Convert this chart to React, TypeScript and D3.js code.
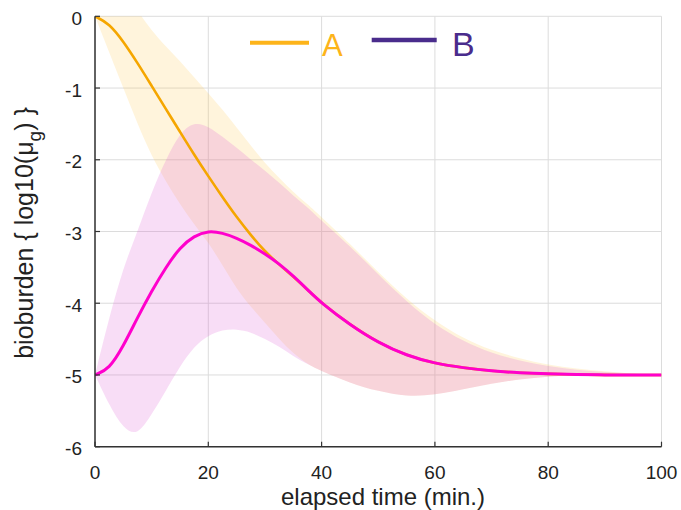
import React from "react";
import * as d3 from "d3";

const time = [0, 2.5, 5, 7.5, 10, 12.5, 15, 17.5, 20, 22.5, 25, 27.5, 30, 32.5, 35, 37.5, 40, 45, 50, 55, 60, 65, 70, 75, 80, 85, 90, 95, 100];

const meanA = [0, -0.1, -0.35, -0.65, -0.97, -1.29, -1.61, -1.93, -2.23, -2.52, -2.8, -3.05, -3.28, -3.46, -3.63, -3.81, -4.0, -4.3, -4.55, -4.73, -4.84, -4.9, -4.945, -4.97, -4.985, -4.995, -5, -5, -5];
const upperA = [0, 0.35, 0.35, 0.08, -0.2, -0.42, -0.62, -0.85, -1.07, -1.3, -1.55, -1.8, -2.05, -2.25, -2.45, -2.62, -2.8, -3.17, -3.57, -3.94, -4.25, -4.49, -4.66, -4.77, -4.86, -4.91, -4.95, -4.98, -5];
const lowerA = [0, -0.5, -1.0, -1.5, -1.95, -2.3, -2.62, -2.9, -3.15, -3.47, -3.8, -4.05, -4.27, -4.5, -4.7, -4.85, -4.95, -5.11, -5.23, -5.3, -5.28, -5.2, -5.12, -5.06, -5.02, -5.0, -5.0, -5.0, -5.0];

const meanB = [-5, -4.92, -4.6, -4.2, -3.83, -3.5, -3.22, -3.06, -2.99, -3.02, -3.09, -3.19, -3.31, -3.45, -3.62, -3.81, -4.0, -4.3, -4.55, -4.73, -4.84, -4.9, -4.945, -4.97, -4.985, -4.995, -5, -5, -5];
const upperB = [-5, -4.2, -3.5, -3.0, -2.45, -2.0, -1.62, -1.47, -1.53, -1.68, -1.83, -2.0, -2.15, -2.32, -2.5, -2.66, -2.85, -3.2, -3.6, -3.98, -4.3, -4.53, -4.7, -4.8, -4.88, -4.93, -4.96, -4.98, -5];
const lowerB = [-5, -5.42, -5.75, -5.85, -5.55, -5.22, -4.88, -4.6, -4.45, -4.37, -4.36, -4.4, -4.5, -4.6, -4.74, -4.85, -4.95, -5.11, -5.23, -5.3, -5.28, -5.2, -5.12, -5.06, -5.02, -5.0, -5.0, -5.0, -5.0];

const xTicks = [0, 20, 40, 60, 80, 100];
const yTicks = [0, -1, -2, -3, -4, -5, -6];
const seriesNames = ["A", "B"];

const W = 681;
const H = 510;
const FONT = "'Liberation Sans', Arial, Helvetica, sans-serif";

export default function App() {
  const x = d3.scaleLinear().domain([0, 100]).range([95, 661.5]);
  const y = d3.scaleLinear().domain([0, -6]).range([16.3, 446.7]);

  const idx = time.map((_, i) => i);
  const band = (up: number[], lo: number[]) =>
    d3
      .area<number>()
      .x((i) => x(time[i]))
      .y0((i) => y(lo[i]))
      .y1((i) => y(up[i]))
      .curve(d3.curveBasis)(idx) || "";
  const line = (m: number[]) =>
    d3
      .line<number>()
      .x((i) => x(time[i]))
      .y((i) => y(m[i]))
      .curve(d3.curveBasis)(idx) || "";

  const [x0, x1] = x.range();
  const [y0, y1] = y.range();

  return (
    <svg
      width={W}
      height={H}
      style={{ position: "absolute", left: 0, top: 0, background: "#fff" }}
      fontFamily={FONT}
    >
      <defs>
        <clipPath id="plotClip">
          <rect x={x0} y={y0} width={x1 - x0} height={y1 - y0} />
        </clipPath>
      </defs>

      {/* grid */}
      {xTicks.map((t) => (
        <line key={"gx" + t} x1={x(t)} x2={x(t)} y1={y0} y2={y1} stroke="#dcdcdc" strokeWidth={1} />
      ))}
      {yTicks.map((t) => (
        <line key={"gy" + t} x1={x0} x2={x1} y1={y(t)} y2={y(t)} stroke="#dcdcdc" strokeWidth={1} />
      ))}

      {/* bands and lines */}
      <g clipPath="url(#plotClip)">
        <path d={band(upperA, lowerA)} fill="#FFC850" fillOpacity={0.2} />
        <path d={band(upperB, lowerB)} fill="#DC55D2" fillOpacity={0.2} />
        <path d={line(meanA)} fill="none" stroke="#F5A600" strokeWidth={2.6} />
        <path d={line(meanB)} fill="none" stroke="#FF00CC" strokeWidth={3} />
      </g>

      {/* axes */}
      <line x1={x0} x2={x0} y1={y0} y2={y1} stroke="#333" strokeWidth={1.5} />
      <line x1={x0} x2={x1} y1={y1} y2={y1} stroke="#333" strokeWidth={1.5} />
      {xTicks.map((t) => (
        <g key={"tx" + t}>
          <line x1={x(t)} x2={x(t)} y1={y1} y2={y1 - 5} stroke="#333" strokeWidth={1.2} />
          <text x={x(t)} y={479} textAnchor="middle" fontSize={19} fill="#222">
            {t}
          </text>
        </g>
      ))}
      {yTicks.map((t) => (
        <g key={"ty" + t}>
          <line x1={x0} x2={x0 + 5} y1={y(t)} y2={y(t)} stroke="#333" strokeWidth={1.2} />
          <text x={82} y={y(t) + 8.5} textAnchor="end" fontSize={19} fill="#222">
            {t}
          </text>
        </g>
      ))}

      {/* axis labels */}
      <text x={383} y={505} textAnchor="middle" fontSize={24} fill="#222">
        elapsed time (min.)
      </text>
      <text transform="translate(33,233) rotate(-90)" textAnchor="middle" fontSize={25} fill="#222">
        bioburden {"{"} log10(μ
        <tspan fontSize={19} dy={8}>g</tspan>
        <tspan dy={-8}>{")  }"}</tspan>
      </text>

      {/* legend */}
      <line x1={250} x2={309} y1={42.7} y2={42.7} stroke="#FDB41A" strokeWidth={4} />
      <text x={322} y={56} fontSize={31} fill="#FDB41A">
        {seriesNames[0]}
      </text>
      <line x1={371.7} x2={436.7} y1={40} y2={40} stroke="#4A2C8C" strokeWidth={4.5} />
      <text x={452} y={56} fontSize={34} fill="#4A2C8C">
        {seriesNames[1]}
      </text>
    </svg>
  );
}
